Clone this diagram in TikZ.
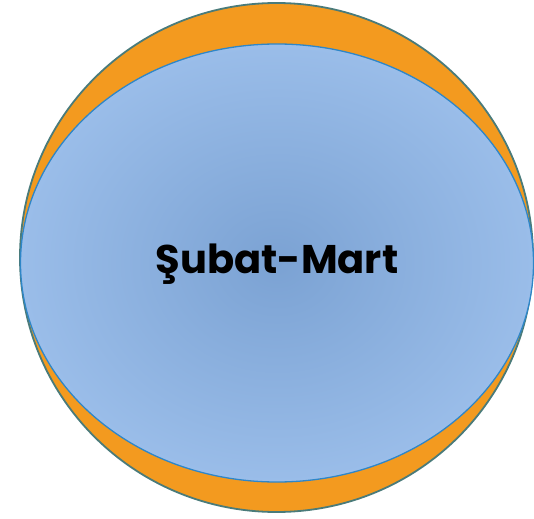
\documentclass[tikz,border=0pt]{standalone}
\usepackage{fontspec}
\setmainfont{Poppins}
\usetikzlibrary{positioning}
\definecolor{shellfill}{HTML}{F39A1F}
\definecolor{shelldraw}{HTML}{4A7B7A}
\definecolor{coredraw}{HTML}{2E86C8}
\definecolor{coremid}{HTML}{7BA2D3}
\definecolor{coreedge}{HTML}{9ABDE9}
\tikzset{
  shell/.style={draw=shelldraw, line width=1.8pt, fill=shellfill},
  core/.style={draw=coredraw, line width=1.3pt, inner color=coremid, outer color=coreedge},
  tag/.style={font=\fontsize{40}{44}\selectfont\bfseries, text=black}
}
\begin{document}
\begin{tikzpicture}[x=1pt, y=-1pt]
		\useasboundingbox (0,0) rectangle (534,518);
		\draw[shell] (276.5,257.5) ellipse [x radius=256.5, y radius=254.5];
		\draw[core] (277,263) ellipse [x radius=256.5, y radius=219];
		\node[tag] (season) at (277,264) {Şubat-Mart};
	\end{tikzpicture}
\end{document}
